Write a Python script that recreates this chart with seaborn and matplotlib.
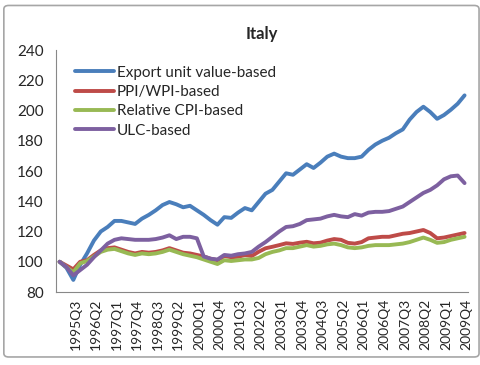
import pandas as pd
import matplotlib.pyplot as plt
import seaborn as sns
from matplotlib.patches import FancyBboxPatch

sns.set_style("white")
plt.rcParams['font.family'] = ['Lato', 'DejaVu Sans']

# Quarterly index, 1995Q1 = 100
quarters = [f"{y}Q{q}" for y in range(1995, 2010) for q in range(1, 5)]

export_uv = [100, 96, 88, 98, 105.5, 114, 120, 123, 127, 127,
             126, 125, 128.5, 131, 134, 137.5, 139.5, 138, 136, 137,
             134, 131, 127.5, 124.5, 129.5, 129, 132.5, 135.5, 134, 139.5,
             145, 147.5, 153, 158.5, 157.5, 161, 164.5, 162, 165.5, 169.5,
             171.5, 169.5, 168.5, 168.5, 169.5, 174, 177.5, 180, 182, 185,
             187.5, 194, 199, 202.5, 199, 194.5, 197, 200.5, 204.5, 210]
ppi_wpi = [100, 97.5, 95, 100, 101, 104.5, 107.5, 109, 109.5, 108,
           106.5, 105.5, 106.5, 106, 106.5, 107.5, 109, 107.5, 106, 105.5,
           104.5, 103.5, 102, 101, 103.8, 103, 103.3, 104.4, 103.8, 106.6,
           108.9, 109.9, 111, 112.2, 111.8, 112.6, 113.2, 112.2, 112.6, 114,
           115, 114.5, 112.5, 112, 113, 115.5, 116, 116.5, 116.5, 117.5,
           118.5, 119, 120, 121, 119, 115.5, 116, 117, 118, 119]
rel_cpi = [100, 96.5, 93, 99, 100.5, 103.5, 106.5, 108, 108.5, 107,
           105.5, 104.5, 105.5, 105, 105.5, 106.5, 108, 106.5, 105, 104,
           103, 101.5, 100, 98.5, 101, 100.5, 101, 101.5, 101.5, 102.5,
           105, 106.5, 107.5, 109, 109, 110, 111, 110, 110.5, 111.5,
           112, 111, 109.5, 109, 109.5, 110.5, 111, 111, 111, 111.5,
           112, 113, 114.5, 116, 114.5, 112.5, 113, 114.5, 115.5, 116.5]
ulc = [100, 96.5, 91, 94.5, 98, 103, 107.5, 112, 114.5, 115.5,
       115, 114.5, 114.5, 114.5, 115, 116, 117.5, 115, 116.5, 116.5,
       115.5, 103.5, 102, 101.5, 104.5, 104, 105, 105.5, 106.5, 110,
       113, 116.5, 120, 123, 123.5, 125, 127.5, 128, 128.5, 130,
       131, 130, 129.5, 131.5, 130.5, 132.5, 133, 133, 133.5, 135,
       136.5, 139.5, 142.5, 145.5, 147.5, 150.5, 154.5, 156.5, 157, 152]

series_names = ["Export unit value-based", "PPI/WPI-based",
                "Relative CPI-based", "ULC-based"]
colors = ["#4a7ebb", "#be4b48", "#98b954", "#7d60a0"]

df = pd.DataFrame({"t": range(len(quarters)),
                   series_names[0]: export_uv,
                   series_names[1]: ppi_wpi,
                   series_names[2]: rel_cpi,
                   series_names[3]: ulc})
df_long = df.melt(id_vars="t", var_name="series", value_name="index")

fig = plt.figure(figsize=(4.8, 3.65), dpi=100)
ax = fig.add_axes([0.117, 0.2, 0.858, 0.663])

sns.lineplot(data=df_long, x="t", y="index", hue="series",
             hue_order=series_names, palette=colors, linewidth=2.8,
             ax=ax, legend=True)

ax.set_xlim(-0.5, len(quarters) - 0.5)
ax.set_ylim(80, 240)
ax.set_yticks(range(80, 241, 20))
ax.set_xlabel("")
ax.set_ylabel("")

# labels every third quarter, tick marks between categories
label_pos = list(range(2, len(quarters), 3))
ax.set_xticks([i + 0.3 for i in label_pos])
ax.set_xticklabels([quarters[i] for i in label_pos], rotation=90, fontsize=10)
ax.set_xticks([i - 0.5 for i in range(len(quarters) + 1)], minor=True)
ax.tick_params(axis="x", which="major", length=0, pad=5)
ax.tick_params(axis="x", which="minor", length=4, color="#888888", direction="out")
ax.tick_params(axis="y", length=4, color="#888888", direction="out",
               labelsize=11, pad=5)

for side in ["top", "right"]:
    ax.spines[side].set_visible(False)
for side in ["left", "bottom"]:
    ax.spines[side].set_color("#888888")
    ax.spines[side].set_linewidth(0.8)

ax.set_title("Italy", fontsize=12, fontweight="bold", pad=8)

ax.legend(loc="upper left", bbox_to_anchor=(0.045, 0.935), frameon=False,
          fontsize=11, handlelength=2.6, handletextpad=0.15,
          labelspacing=0.35, borderpad=0, borderaxespad=0)

fig.patches.append(FancyBboxPatch((0.008, 0.022), 0.99, 0.963,
                                  boxstyle="round,pad=0,rounding_size=0.01",
                                  transform=fig.transFigure, fill=False,
                                  edgecolor="#a6a6a6", linewidth=1.2))

fig.savefig("out.png", dpi=100)
